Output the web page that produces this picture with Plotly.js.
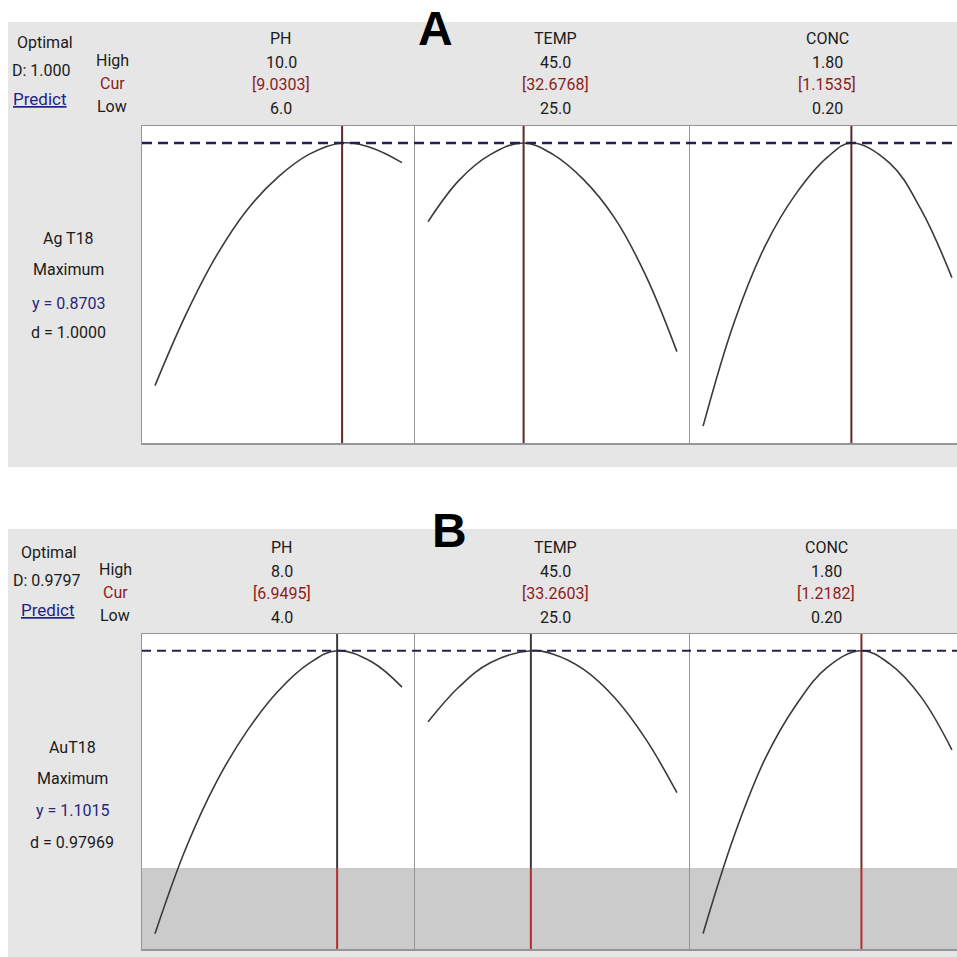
<!DOCTYPE html>
<html><head><meta charset="utf-8">
<script src="https://cdn.plot.ly/plotly-3.0.1.min.js"></script>
<style>html,body{margin:0;padding:0;background:#fff;overflow:hidden}</style>
</head><body><div id="chart" style="width:957px;height:957px"></div>
<script>
// ---------------- data ----------------
const factors = ['PH', 'TEMP', 'CONC'];
const panelLetters = ['A', 'B'];
const responses = ['Ag T18', 'AuT18'];
const goals = ['Maximum', 'Maximum'];
const optimalD = ['1.000', '0.9797'];
const yOpt = [0.8703, 1.1015];
const dVals = ['1.0000', '0.97969'];

// Panel A (Ag T18)
const highA = ['10.0', '45.0', '1.80'];
const lowA = ['6.0', '25.0', '0.20'];
const curA = [9.0303, 32.6768, 1.1535];
const phA_x = [6.0, 6.5, 7.0, 7.5, 8.0, 8.5, 9.0303, 9.5, 10.0];
const phA_y = [0.385, 0.527, 0.646, 0.738, 0.803, 0.848, 0.8703, 0.861, 0.831];
const tempA_x = [25, 27.5, 30, 32.6768, 35, 37.5, 40, 42.5, 45];
const tempA_y = [0.713, 0.796, 0.847, 0.8703, 0.848, 0.797, 0.720, 0.605, 0.453];
const concA_x = [0.2, 0.4, 0.6, 0.8, 1.0, 1.1535, 1.4, 1.6, 1.8];
const concA_y = [0.304, 0.512, 0.665, 0.770, 0.842, 0.8703, 0.830, 0.738, 0.601];

// Panel B (AuT18)
const highB = ['8.0', '45.0', '1.80'];
const lowB = ['4.0', '25.0', '0.20'];
const curB = [6.9495, 33.2603, 1.2182];
const phB_x = [4.0, 4.5, 5.0, 5.5, 6.0, 6.5, 6.9495, 7.5, 8.0];
const phB_y = [0.383, 0.600, 0.770, 0.900, 1.000, 1.070, 1.1015, 1.074, 1.009];
const tempB_x = [25, 27.5, 30, 33.2603, 35, 37.5, 40, 42.5, 45];
const tempB_y = [0.921, 1.010, 1.071, 1.1015, 1.093, 1.054, 0.982, 0.877, 0.741];
const concB_x = [0.2, 0.4, 0.6, 0.8, 1.0, 1.2182, 1.4, 1.6, 1.8];
const concB_y = [0.384, 0.632, 0.828, 0.965, 1.060, 1.1015, 1.068, 0.985, 0.850];
const lowerLimitB = 0.55;

// ---------------- layout helpers ----------------
const W = 957, H = 957;
const PX = v => v / W, PY = v => 1 - v / H;
const colPx = [[142, 415], [415, 690], [690, 965]];
const rowPx = [[126, 443], [634, 949]];
const yRanges = [[0.2703, 0.9043], [0.3444, 1.1439]];
const highs = [highA, highB], lows = [lowA, lowB], curs = [curA, curB];
const curves = [[[phA_x, phA_y], [tempA_x, tempA_y], [concA_x, concA_y]],
                [[phB_x, phB_y], [tempB_x, tempB_y], [concB_x, concB_y]]];

const FONT = 'Roboto, "Open Sans", sans-serif';
const TXT = '#1b1b1b', RED = '#8b1c1c', NAVY = '#26267a';
const layout = {
  width: W, height: H, margin: {l: 0, r: 0, t: 0, b: 0},
  paper_bgcolor: '#ffffff', plot_bgcolor: 'rgba(0,0,0,0)', showlegend: false,
  shapes: [], annotations: []
};
const traces = [];

const axisStyle = {showline: true, linecolor: '#959595', linewidth: 1.5, showticklabels: false,
  ticks: '', showgrid: false, zeroline: false, fixedrange: true};

// gray panel backgrounds and white plotting areas
const panelBox = [[8, 22, 467], [8, 529, 960]];
panelBox.forEach((b, r) => {
  layout.shapes.push({type: 'rect', xref: 'paper', yref: 'paper', layer: 'below',
    x0: PX(b[0]), x1: 1, y0: Math.max(0, PY(b[2])), y1: PY(b[1]), fillcolor: '#e6e6e6', line: {width: 0}});
  layout.shapes.push({type: 'rect', xref: 'paper', yref: 'paper', layer: 'below',
    x0: PX(colPx[0][0]), x1: 1, y0: PY(rowPx[r][1]), y1: PY(rowPx[r][0]), fillcolor: '#ffffff', line: {width: 0}});
});

for (let r = 0; r < 2; r++) {
  for (let c = 0; c < 3; c++) {
    const k = r * 3 + c + 1;
    const xs = k === 1 ? '' : String(k);
    const lo = parseFloat(lows[r][c]), hi = parseFloat(highs[r][c]);
    const pad = 0.0526 * (hi - lo);
    let r0 = lo - pad, r1 = hi + pad;
    const [c0, c1] = colPx[c];
    let d1 = c1;
    if (c1 > W) { r1 = r0 + (r1 - r0) * (W - c0) / (c1 - c0); d1 = W; }
    layout['xaxis' + xs] = Object.assign({}, axisStyle, {domain: [PX(c0), PX(d1)], range: [r0, r1],
      anchor: 'y' + xs, mirror: true});
    layout['yaxis' + xs] = Object.assign({}, axisStyle, {domain: [PY(rowPx[r][1]), PY(rowPx[r][0])],
      range: yRanges[r], anchor: 'x' + xs, mirror: false});

    if (r === 1) {
      layout.shapes.push({type: 'rect', xref: 'x' + xs + ' domain', yref: 'y' + xs, layer: 'below',
        x0: 0, x1: 1, y0: yRanges[r][0], y1: lowerLimitB, fillcolor: '#cbcbcb', line: {width: 0}});
    }
    // current setting line
    const cx = curs[r][c];
    if (r === 0) {
      layout.shapes.push({type: 'line', xref: 'x' + xs, yref: 'y' + xs + ' domain', x0: cx, x1: cx, y0: 0, y1: 1,
        line: {color: '#5e2828', width: 2}});
    } else {
      layout.shapes.push({type: 'line', xref: 'x' + xs, yref: 'y' + xs, x0: cx, x1: cx,
        y0: yRanges[r][0], y1: lowerLimitB, line: {color: '#b52a2a', width: 2}});
      layout.shapes.push({type: 'line', xref: 'x' + xs, yref: 'y' + xs, x0: cx, x1: cx,
        y0: lowerLimitB, y1: yRanges[r][1], line: {color: c === 2 ? '#7a2a2a' : '#3a3a3a', width: 2}});
    }
    traces.push({type: 'scatter', mode: 'lines', x: curves[r][c][0], y: curves[r][c][1],
      xaxis: 'x' + xs, yaxis: 'y' + xs, line: {color: '#3a3a3a', width: 1.6, shape: 'spline', smoothing: 1.1},
      hoverinfo: 'skip'});
  }
  // dashed optimum line
  const ya = r === 0 ? 'y' : 'y4';
  layout.shapes.push({type: 'line', xref: 'paper', yref: ya, x0: PX(142), x1: 1, y0: yOpt[r], y1: yOpt[r],
    line: {color: '#23234f', width: r === 0 ? 2.6 : 2, dash: r === 0 ? '10px,6px' : '9px,6px'}});
}

function ann(text, x, y, opts) {
  opts = opts || {};
  layout.annotations.push({text: text, x: PX(x), y: PY(y), xref: 'paper', yref: 'paper',
    xanchor: 'center', yanchor: 'middle', showarrow: false,
    font: Object.assign({family: FONT, size: 16, color: TXT}, opts.font || {})});
}

const hdr = [
  {opt: [45, 43], d: [41, 71], pred: [40, 99], hcl: [112, [61, 83, 107]], cols: [281, 555, 827],
   rows: [38, 62, 84, 108], letter: [435, 29], left: [68, [238, 270, 303, 333]]},
  {opt: [49, 552], d: [47, 580], pred: [48, 610], hcl: [115, [569, 592, 615]], cols: [282, 555, 826],
   rows: [547, 571, 593, 617], letter: [449, 530], left: [72, [747, 778, 810, 842]]}
];
for (let r = 0; r < 2; r++) {
  const h = hdr[r];
  ann('Optimal', h.opt[0], h.opt[1]);
  ann('D: ' + optimalD[r], h.d[0], h.d[1]);
  ann('Predict', h.pred[0], h.pred[1], {font: {color: '#1f1f8c', lineposition: 'under', size: 17}});
  ann('High', h.hcl[0], h.hcl[1][0]);
  ann('Cur', h.hcl[0], h.hcl[1][1], {font: {color: RED}});
  ann('Low', h.hcl[0], h.hcl[1][2]);
  for (let c = 0; c < 3; c++) {
    ann(factors[c], h.cols[c], h.rows[0]);
    ann(highs[r][c], h.cols[c], h.rows[1]);
    ann('[' + curs[r][c].toFixed(4) + ']', h.cols[c], h.rows[2], {font: {color: RED}});
    ann(lows[r][c], h.cols[c], h.rows[3]);
  }
  layout.annotations.push({text: '<b>' + panelLetters[r] + '</b>', x: PX(h.letter[0]), y: PY(h.letter[1]),
    xref: 'paper', yref: 'paper', xanchor: 'center', yanchor: 'middle', showarrow: false,
    font: {family: '"Liberation Sans", Arial, sans-serif', size: 48, color: '#000'}});
  ann(responses[r], h.left[0], h.left[1][0]);
  ann(goals[r], h.left[0], h.left[1][1]);
  ann('y = ' + yOpt[r].toFixed(4), h.left[0], h.left[1][2], {font: {color: NAVY}});
  ann('d = ' + dVals[r], h.left[0], h.left[1][3]);
}

Plotly.newPlot('chart', traces, layout, {staticPlot: true, displayModeBar: false});
</script></body></html>
